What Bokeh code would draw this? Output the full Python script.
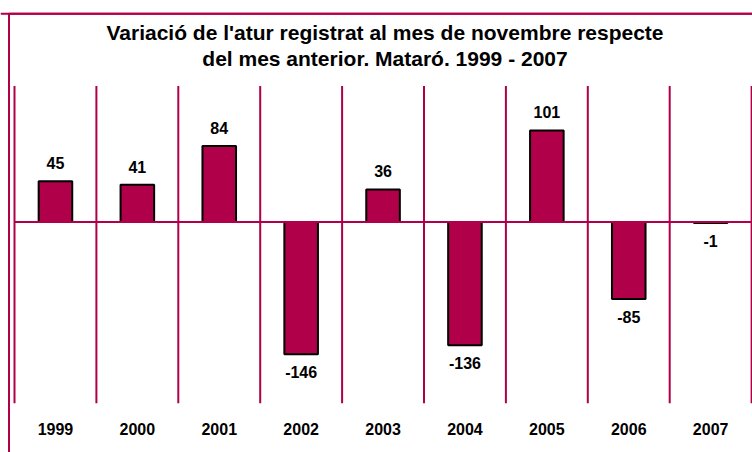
from bokeh.plotting import figure
from bokeh.models import Range1d, ColumnDataSource, Span
from bokeh.core.properties import value
from bokeh.embed import file_html
from bokeh.resources import INLINE

# ---- data ----
years = ["1999", "2000", "2001", "2002", "2003", "2004", "2005", "2006", "2007"]
variacio = [45, 41, 84, -146, 36, -136, 101, -85, -1]
title_lines = [
    "Variació de l'atur registrat al mes de novembre respecte",
    "del mes anterior. Mataró. 1999 - 2007",
]
y_min, y_max = -200, 150

# ---- layout (pixels on the canvas) ----
W, H = 752, 452
PLOT_LEFT = 14.0         # canvas x of the first category boundary
CAT_W = 81.9             # pixel width of one category
ZERO_Y = 221.5           # canvas y (from top) of the value 0
PX_PER_UNIT = 0.906      # pixels per unit of the value axis

MAROON = "#AF0049"
FONT = "Liberation Sans"


def xdata(cx):
    return (cx - PLOT_LEFT) / CAT_W


def ydata(cy):
    return (ZERO_Y - cy) / PX_PER_UNIT


n = len(years)
p = figure(
    width=W, height=H,
    x_range=Range1d(xdata(0), xdata(W)),
    y_range=Range1d(ydata(H), ydata(0)),
    output_backend="svg", toolbar_location=None,
    x_axis_location=None, y_axis_location=None,
    min_border=0, min_border_left=0, min_border_right=0,
    min_border_top=0, min_border_bottom=0,
)
p.xgrid.visible = False
p.ygrid.visible = False
p.outline_line_color = None
p.background_fill_color = "white"
p.border_fill_color = "white"

centers = [i + 0.5 for i in range(n)]
src = ColumnDataSource(dict(
    x=centers, year=years, val=variacio,
    label=[str(v) for v in variacio],
    off=[-18 if v >= 0 else 18 for v in variacio],
))

# outer frame (only its left and top edges fall inside the picture)
p.quad(left=[xdata(8.5)], right=[xdata(W + 20)],
       top=[ydata(13.3)], bottom=[ydata(H + 20)],
       fill_color=None, line_color=MAROON, line_width=2)
p.add_layout(Span(location=ydata(13.3), dimension="width",
                  line_color=MAROON, line_width=2))

# category separators
bounds = list(range(n + 1))
p.segment(x0=bounds, x1=bounds, y0=[y_min] * (n + 1), y1=[y_max] * (n + 1),
          line_color=MAROON, line_width=2)

# bars
p.vbar(x="x", top="val", bottom=0, width=0.41, source=src,
       fill_color=MAROON, line_color="black", line_width=2)

# zero line
p.segment(x0=[0], x1=[n], y0=[0], y1=[0], line_color=MAROON, line_width=2)

# value labels
p.text(x="x", y="val", text="label", y_offset="off", source=src,
       text_align="center", text_baseline="middle",
       text_font=value(FONT), text_font_style="bold",
       text_font_size="16px", text_color="black")

# category labels
p.text(x="x", y=ydata(428), text="year", source=src,
       text_align="center", text_baseline="middle",
       text_font=value(FONT), text_font_style="bold",
       text_font_size="16px", text_color="black")

# title
p.text(x=[xdata(384.5)] * 2, y=[ydata(32), ydata(58)], text=title_lines,
       text_align="center", text_baseline="middle",
       text_font=value(FONT), text_font_style="bold",
       text_font_size="21px", text_color="black")

open("out.html", "w").write(file_html(p, INLINE))
